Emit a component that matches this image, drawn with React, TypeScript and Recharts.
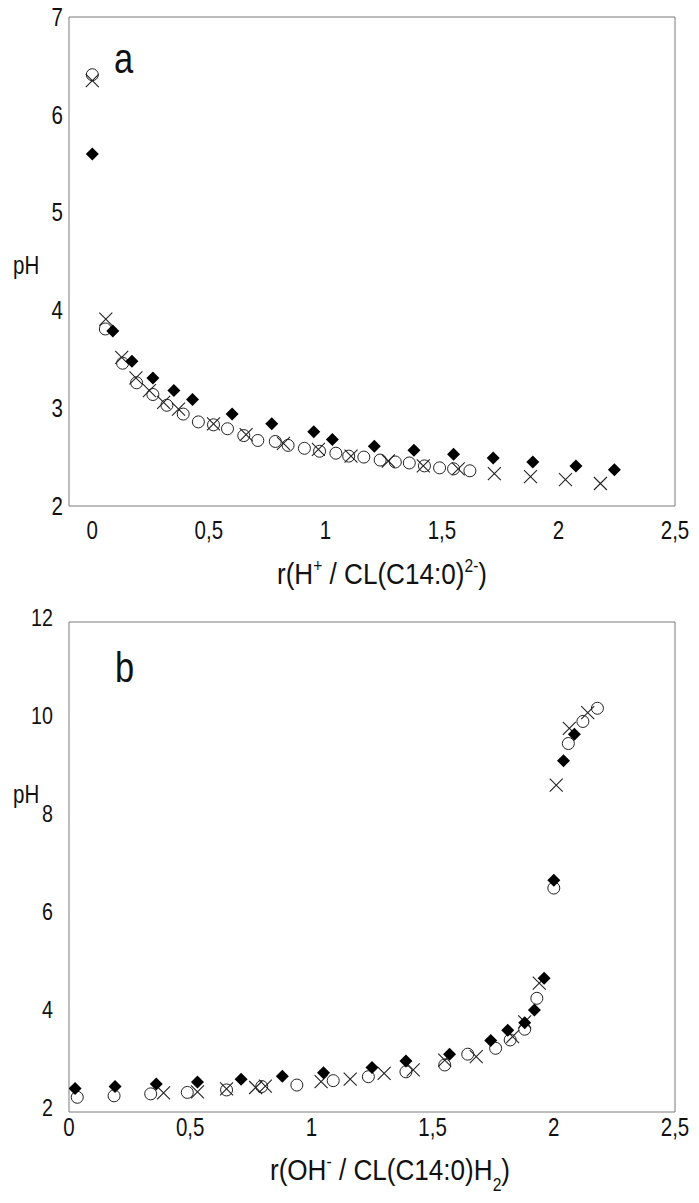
import React from 'react';
import { ScatterChart, Scatter, XAxis, YAxis } from 'recharts';

const FONT = "'Liberation Sans', Arial, sans-serif";
const NARROW = 0.82; // the original uses a condensed face; squeeze Liberation Sans to match
const AXIS = '#7a7a7a';
const INK = '#111';

// panel a : titration with H+
const aTicksX = [0, 0.5, 1, 1.5, 2, 2.5];
const aTicksY = [2, 3, 4, 5, 6, 7];

const aDiamondX = [0, 0.088, 0.17, 0.26, 0.35, 0.43, 0.6, 0.77, 0.95, 1.03, 1.21, 1.38, 1.55, 1.72, 1.89, 2.075, 2.24];
const aDiamondY = [5.6, 3.79, 3.48, 3.31, 3.18, 3.09, 2.94, 2.84, 2.76, 2.68, 2.61, 2.57, 2.53, 2.49, 2.45, 2.41, 2.37];

const aCrossX = [0, 0.058, 0.126, 0.187, 0.245, 0.306, 0.37, 0.52, 0.66, 0.82, 0.97, 1.11, 1.27, 1.42, 1.57, 1.725, 1.88, 2.03, 2.18];
const aCrossY = [6.35, 3.91, 3.52, 3.31, 3.18, 3.06, 2.99, 2.84, 2.73, 2.64, 2.58, 2.51, 2.46, 2.41, 2.38, 2.33, 2.3, 2.27, 2.23];

const aCircleX = [0, 0.056, 0.13, 0.19, 0.26, 0.32, 0.39, 0.455, 0.52, 0.58, 0.65, 0.71, 0.785, 0.84, 0.91, 0.975, 1.045, 1.1, 1.165, 1.235, 1.3, 1.36, 1.425, 1.49, 1.55, 1.62];
const aCircleY = [6.41, 3.81, 3.46, 3.26, 3.14, 3.03, 2.94, 2.86, 2.83, 2.79, 2.72, 2.67, 2.66, 2.62, 2.59, 2.56, 2.54, 2.51, 2.5, 2.47, 2.45, 2.44, 2.41, 2.39, 2.38, 2.36];

// panel b : titration with OH-
const bTicksX = [0, 0.5, 1, 1.5, 2, 2.5];
const bTicksY = [2, 4, 6, 8, 10, 12];

const bDiamondX = [0.025, 0.19, 0.36, 0.53, 0.71, 0.88, 1.05, 1.25, 1.39, 1.57, 1.74, 1.81, 1.88, 1.92, 1.96, 2.0, 2.04, 2.085];
const bDiamondY = [2.48, 2.52, 2.57, 2.61, 2.67, 2.73, 2.8, 2.91, 3.04, 3.18, 3.46, 3.67, 3.82, 4.08, 4.73, 6.73, 9.17, 9.71];

const bCircleX = [0.034, 0.186, 0.337, 0.488, 0.65, 0.795, 0.94, 1.09, 1.235, 1.39, 1.55, 1.645, 1.76, 1.82, 1.88, 1.93, 2.0, 2.06, 2.12, 2.18];
const bCircleY = [2.3, 2.33, 2.37, 2.4, 2.45, 2.52, 2.55, 2.64, 2.72, 2.82, 2.96, 3.18, 3.3, 3.47, 3.69, 4.32, 6.57, 9.52, 9.97, 10.24];

const bCrossX = [0.39, 0.53, 0.65, 0.77, 0.81, 1.04, 1.16, 1.3, 1.42, 1.55, 1.68, 1.83, 1.88, 1.94, 2.01, 2.064, 2.14];
const bCrossY = [2.39, 2.41, 2.47, 2.5, 2.53, 2.62, 2.67, 2.79, 2.86, 3.06, 3.13, 3.54, 3.84, 4.63, 8.67, 9.83, 10.15];

const toPts = (xs: number[], ys: number[]) => xs.map((x, i) => ({ x, y: ys[i] }));
const comma = (v: number) => String(v).replace('.', ',');

const Diamond = ({ cx, cy }: any) => (
  <polygon points={`${cx},${cy - 6.5} ${cx + 6.5},${cy} ${cx},${cy + 6.5} ${cx - 6.5},${cy}`} fill="#000" />
);
const Ring = ({ cx, cy }: any) => (
  <circle cx={cx} cy={cy} r={6} fill="none" stroke="#222" strokeWidth={1} />
);
const Cross = ({ cx, cy }: any) => (
  <path d={`M${cx - 6.5},${cy - 6.5}L${cx + 6.5},${cy + 6.5}M${cx + 6.5},${cy - 6.5}L${cx - 6.5},${cy + 6.5}`}
        stroke="#222" strokeWidth={1.1} fill="none" />
);

const XTick = ({ x, y, payload }: any) => (
  <text transform={`translate(${x},${y}) scale(${NARROW},1)`} textAnchor="middle" dy="0.71em"
        fontFamily={FONT} fontSize={25} fill={INK}>{comma(payload.value)}</text>
);
const makeYTick = (size: number, shift: number) => ({ x, y, payload }: any) => (
  <text transform={`translate(${x},${y + shift}) scale(${NARROW},1)`} textAnchor="end" dy="0.355em"
        fontFamily={FONT} fontSize={size} fill={INK}>{payload.value}</text>
);
const YTickA = makeYTick(25, 0);
const YTickB = makeYTick(24, -5);

const TitleA = ({ viewBox }: any) => (
  <text transform={`translate(${viewBox.x + viewBox.width / 2 + 10},${viewBox.y + 78}) scale(0.87,1)`}
        textAnchor="middle" fontFamily={FONT} fontSize={30} fill={INK}>
    r(H<tspan dy={-12} fontSize={18}>+</tspan>
    <tspan dy={12}> / CL(C14:0)</tspan>
    <tspan dy={-12} fontSize={18}>2-</tspan>
    <tspan dy={12}>)</tspan>
  </text>
);

const TitleB = ({ viewBox }: any) => (
  <text transform={`translate(${viewBox.x + viewBox.width / 2 + 18},${viewBox.y + 68}) scale(0.87,1)`}
        textAnchor="middle" fontFamily={FONT} fontSize={30} fill={INK}>
    r(OH<tspan dy={-12} fontSize={18}>-</tspan>
    <tspan dy={12}> / CL(C14:0)H</tspan>
    <tspan dy={11} fontSize={18}>2</tspan>
    <tspan dy={-11}>)</tspan>
  </text>
);

const overlay = (left: number, top: number, size: number): React.CSSProperties => ({
  position: 'absolute', left, top, fontFamily: FONT, fontSize: size, lineHeight: 1, color: INK,
  transform: `scaleX(${NARROW})`, transformOrigin: 'left top',
});

export default function App() {
  return (
    <div style={{ position: 'absolute', left: 0, top: 0, width: 699, height: 1203, background: '#fff' }}>
      <div style={{ position: 'absolute', left: 0, top: 0 }}>
        <ScatterChart width={699} height={600} margin={{ top: 17, right: 24, bottom: 0, left: 0 }}>
          <XAxis xAxisId="x" type="number" dataKey="x" domain={[-0.1, 2.5]} ticks={aTicksX} allowDataOverflow
                 height={94} stroke={AXIS} tickLine={false} tickSize={0} tickMargin={15}
                 tick={XTick} label={{ content: TitleA }} />
          <XAxis xAxisId="xin" type="number" dataKey="x" domain={[-0.1, 2.5]} ticks={aTicksX} allowDataOverflow
                 mirror tick={false} axisLine={false} tickLine={{ stroke: AXIS }} tickSize={7} />
          <XAxis xAxisId="top" orientation="top" type="number" dataKey="x" domain={[-0.1, 2.5]} ticks={aTicksX}
                 allowDataOverflow mirror tick={false} stroke={AXIS} tickLine={{ stroke: AXIS }} tickSize={7} />
          <YAxis yAxisId="y" type="number" dataKey="y" domain={[2, 7]} ticks={aTicksY} allowDataOverflow
                 width={69} stroke={AXIS} tickLine={false} tickSize={0} tickMargin={6} tick={YTickA} />
          <YAxis yAxisId="yin" type="number" dataKey="y" domain={[2, 7]} ticks={aTicksY} allowDataOverflow
                 mirror tick={false} axisLine={false} tickLine={{ stroke: AXIS }} tickSize={7} />
          <YAxis yAxisId="right" orientation="right" type="number" dataKey="y" domain={[2, 7]} ticks={aTicksY}
                 allowDataOverflow mirror tick={false} stroke={AXIS} tickLine={{ stroke: AXIS }} tickSize={7} />
          <Scatter xAxisId="x" yAxisId="y" data={toPts(aCircleX, aCircleY)} shape={Ring} isAnimationActive={false} />
          <Scatter xAxisId="x" yAxisId="y" data={toPts(aCrossX, aCrossY)} shape={Cross} isAnimationActive={false} />
          <Scatter xAxisId="x" yAxisId="y" data={toPts(aDiamondX, aDiamondY)} shape={Diamond} isAnimationActive={false} />
        </ScatterChart>
      </div>
      <div style={{ position: 'absolute', left: 0, top: 600 }}>
        <ScatterChart width={699} height={603} margin={{ top: 22, right: 24, bottom: 0, left: 0 }}>
          <XAxis xAxisId="x" type="number" dataKey="x" domain={[0, 2.5]} ticks={bTicksX} allowDataOverflow
                 height={91} stroke={AXIS} tickLine={false} tickSize={0} tickMargin={6}
                 tick={XTick} label={{ content: TitleB }} />
          <XAxis xAxisId="top" orientation="top" type="number" dataKey="x" domain={[0, 2.5]} ticks={bTicksX}
                 allowDataOverflow mirror tick={false} stroke={AXIS} tickLine={false} />
          <YAxis yAxisId="y" type="number" dataKey="y" domain={[2, 12]} ticks={bTicksY} allowDataOverflow
                 width={69} stroke={AXIS} tickLine={false} tickSize={0} tickMargin={16} tick={YTickB} />
          <YAxis yAxisId="right" orientation="right" type="number" dataKey="y" domain={[2, 12]} ticks={bTicksY}
                 allowDataOverflow mirror tick={false} stroke={AXIS} tickLine={false} />
          <Scatter xAxisId="x" yAxisId="y" data={toPts(bCircleX, bCircleY)} shape={Ring} isAnimationActive={false} />
          <Scatter xAxisId="x" yAxisId="y" data={toPts(bCrossX, bCrossY)} shape={Cross} isAnimationActive={false} />
          <Scatter xAxisId="x" yAxisId="y" data={toPts(bDiamondX, bDiamondY)} shape={Diamond} isAnimationActive={false} />
        </ScatterChart>
      </div>
      <div style={overlay(114, 38, 42)}>a</div>
      <div style={overlay(115, 647, 42)}>b</div>
      <div style={overlay(13, 253, 25)}>pH</div>
      <div style={overlay(13, 782, 25)}>pH</div>
    </div>
  );
}
